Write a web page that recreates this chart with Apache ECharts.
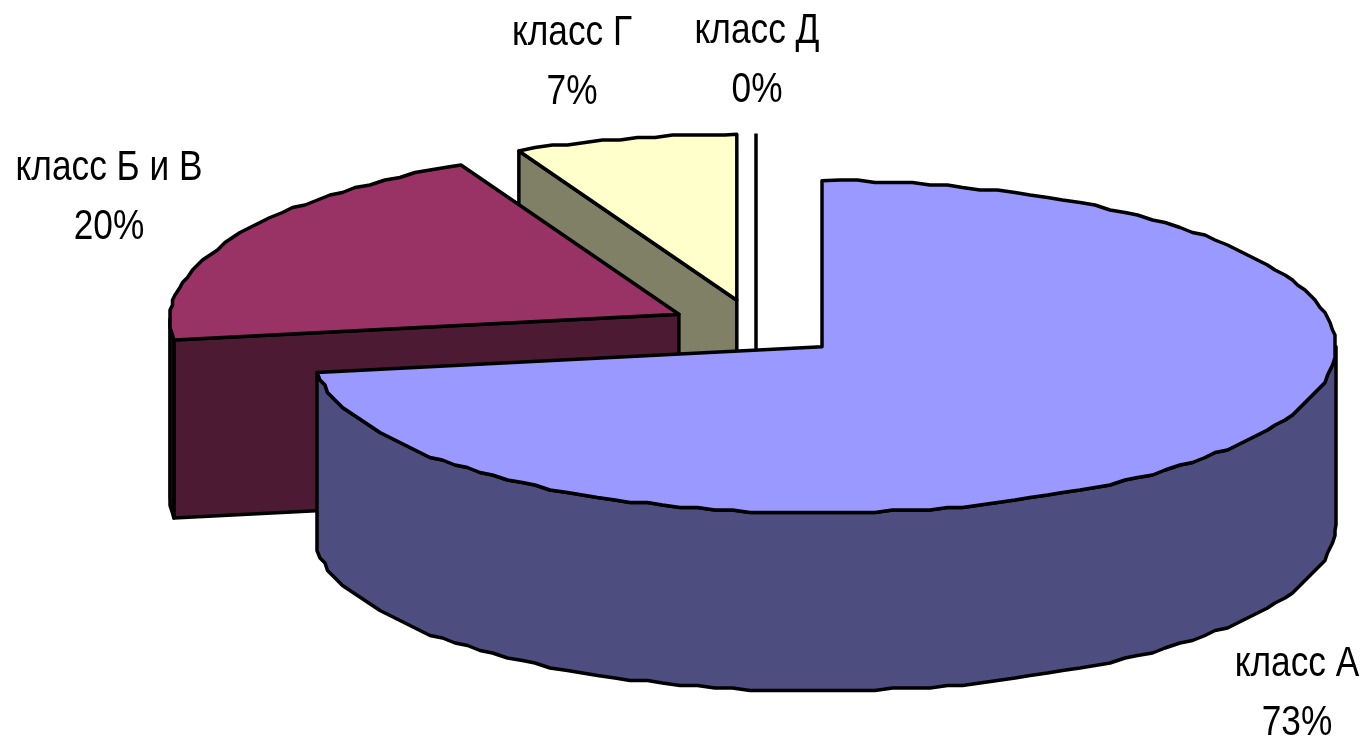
<!DOCTYPE html>
<html><head><meta charset="utf-8">
<style>html,body{margin:0;padding:0;background:#fff}#c{width:1367px;height:741px}</style>
<script src="https://cdn.jsdelivr.net/npm/echarts@6/dist/echarts.min.js"></script>
</head><body><div id="c"></div>
<script>
const categories = ['класс А','класс Б и В','класс Г','класс Д'];
const values = [73,20,7,0];
const percentLabels = ['73%','20%','7%','0%'];
const topColors = ['#9999FF','#993366','#FFFFCC','#FFFFFF'];
const wallColors = ['#4D4D80','#4D1A33','#808066','#808080'];
const labelCenters = [[1297,664],[109,168],[572,33],[757,31]];

const CX=756, CY=328, RX=514, RY=166, EXPLODE=88, DEPTH=178, STEP=2*Math.PI/180, GRID=2.5;
const total = values.reduce((a,b)=>a+b,0);
const starts=[]; let acc=0;
values.forEach(v=>{starts.push(acc/total*2*Math.PI); acc+=v;});
const TAU=2*Math.PI;

// projection of the disc: the left side sits slightly lower and further in
function pt(c,a){
  const s=Math.sin(a), w=s<0?s*s:0;
  return [c[0]+RX*s+5*w, c[1]-RY*Math.cos(a)+5*w];
}
function snap(p){return [Math.round(p[0]/GRID)*GRID, Math.round(p[1]/GRID)*GRID];}
function arc(c,a,b){
  const out=[pt(c,a)];
  for(let t=a+STEP;t<b-STEP/2;t+=STEP) out.push(snap(pt(c,t)));
  out.push(pt(c,b)); return out;
}
function down(p){return [p[0],p[1]+DEPTH];}
const style=(fill)=>({fill:fill,stroke:'#000',lineWidth:3.5,lineJoin:'round'});

function renderItem(params,api){
  const i=api.value(0), v=api.value(1);
  const a=starts[i], b=a+v/total*TAU, mid=(a+b)/2;
  const c=[CX+EXPLODE*Math.sin(mid), CY-EXPLODE*Math.cos(mid)*RY/RX];
  const ch=[];
  const poly=(pts,fill)=>ch.push({type:'polygon',shape:{points:pts},style:style(fill)});
  if(v===0){
    const p=pt(c,a);
    ch.push({type:'line',shape:{x1:p[0],y1:p[1],x2:c[0],y2:c[1]+DEPTH},style:{stroke:'#000',lineWidth:3.5}});
    return {type:'group',children:ch};
  }
  if(a>Math.PI){ const s=pt(c,a); poly([c,s,down(s),down(c)],wallColors[i]); }
  const f0=Math.max(a,Math.PI/2), f1=Math.min(b,3*Math.PI/2);
  if(f1>f0){
    const top=arc(c,f0,f1);
    poly(top.concat(top.map(down).reverse()),wallColors[i]);
  }
  poly([c].concat(arc(c,a,b)),topColors[i]);
  return {type:'group',children:ch};
}
function renderLabel(params,api){
  const i=api.value(0);
  return {type:'group',children:[0,1].map(k=>({
    type:'text',
    x:labelCenters[i][0], y:labelCenters[i][1]+k*59, scaleX:0.82,
    style:{text:k?percentLabels[i]:categories[i],x:0,y:0,
      align:'center',verticalAlign:'middle',fill:'#000',
      font:'43px "Liberation Sans",Arial,sans-serif'}
  }))};
}
const order=[3,2,1,0];
const chart=echarts.init(document.getElementById('c'),null,{renderer:'canvas'});
chart.setOption({
  animation:false,
  series:[
    {type:'custom',coordinateSystem:'none',renderItem:renderItem,data:order.map(i=>[i,values[i]]),silent:true},
    {type:'custom',coordinateSystem:'none',renderItem:renderLabel,data:order.map(i=>[i,values[i]]),silent:true}
  ]
});
</script></body></html>
